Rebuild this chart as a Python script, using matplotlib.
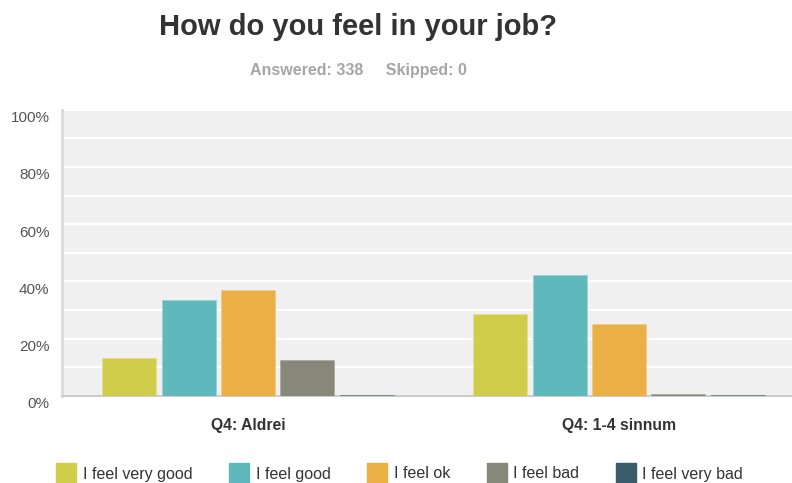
import matplotlib
matplotlib.use("Agg")
import matplotlib.pyplot as plt
import numpy as np
from matplotlib.transforms import ScaledTranslation
from matplotlib.lines import Line2D

plt.rcParams['font.family'] = ['Liberation Sans', 'DejaVu Sans']

categories = ["Q4: Aldrei", "Q4: 1-4 sinnum"]
series_names = ["I feel very good", "I feel good", "I feel ok", "I feel bad", "I feel very bad"]
values = {
    "I feel very good": [13.4, 28.5],
    "I feel good": [33.5, 42.1],
    "I feel ok": [37.0, 25.0],
    "I feel bad": [12.5, 0.8],
    "I feel very bad": [0.5, 0.4],
}
colors = ["#D0CD4A", "#5FB8BC", "#EAAF45", "#878879", "#3B5D6B"]
edges = ["#E3E08A", "#95D2D4", "#F3CB86", "#A8A99C", "#6E8893"]
ytick_vals = [0, 20, 40, 60, 80, 100]
ytick_labels = ["0%", "20%", "40%", "60%", "80%", "100%"]
title = "How do you feel in your job?"
subtitle = "Answered: 338     Skipped: 0"

W, H = 792, 483
fig = plt.figure(figsize=(W / 100, H / 100), dpi=100)
ax = fig.add_axes([62 / W, (H - 396) / H, (W - 62) / W, (396 - 109.7) / H])
ax.set_facecolor("#F0F0F0")

x = np.arange(len(categories))
bw = 0.1456
step = 0.160
for i, name in enumerate(series_names):
    ax.bar(x + (i - 2) * step, values[name], width=bw, color=colors[i],
           edgecolor=edges[i], linewidth=0.5, zorder=5)

ax.set_ylim(0, 100)
ax.set_xlim(-0.501, 1.466)
ax.set_axisbelow(True)
ax.set_yticks(ytick_vals)
ax.set_yticklabels(ytick_labels)
ax.set_yticks(np.arange(10, 100, 20), minor=True)
ax.yaxis.grid(True, which="both", color="white", linewidth=1.6)
ax.tick_params(axis="y", which="both", length=0, pad=9, labelsize=11, labelcolor="#555555")
offset = ScaledTranslation(0, -7 / 100, fig.dpi_scale_trans)
for lab in ax.get_yticklabels():
    lab.set_transform(lab.get_transform() + offset)

ax.set_xticks(x)
ax.set_xticklabels(categories, fontweight="bold", fontsize=11.3, color="#333333")
ax.tick_params(axis="x", length=0, pad=16)

for s in ["top", "right"]:
    ax.spines[s].set_visible(False)
ax.spines["left"].set_color("#D9D9D9")
ax.spines["left"].set_linewidth(2)
ax.spines["bottom"].set_color("#CCCCCC")
ax.spines["bottom"].set_linewidth(1.5)
ax.spines["bottom"].set_zorder(4)

fig.text(358 / W, 1 - 27 / H, title, ha="center", va="center",
         fontsize=21, fontweight="bold", color="#333333")
fig.text(358.5 / W, 1 - 71 / H, subtitle, ha="center", va="center",
         fontsize=11.5, fontweight="bold", color="#A6A6A6")

handles = [Line2D([], [], linestyle="none", marker="s", markersize=15,
                  markerfacecolor=c, markeredgecolor=c) for c in colors]
fig.legend(handles, series_names, loc="center", bbox_to_anchor=(400 / W, 1 - 474 / H),
           ncol=5, frameon=False, fontsize=11.5, handlelength=1.2,
           handletextpad=0.45, columnspacing=2.3, labelcolor="#333333",
           borderpad=0, borderaxespad=0)

fig.savefig("out.png", dpi=100)
